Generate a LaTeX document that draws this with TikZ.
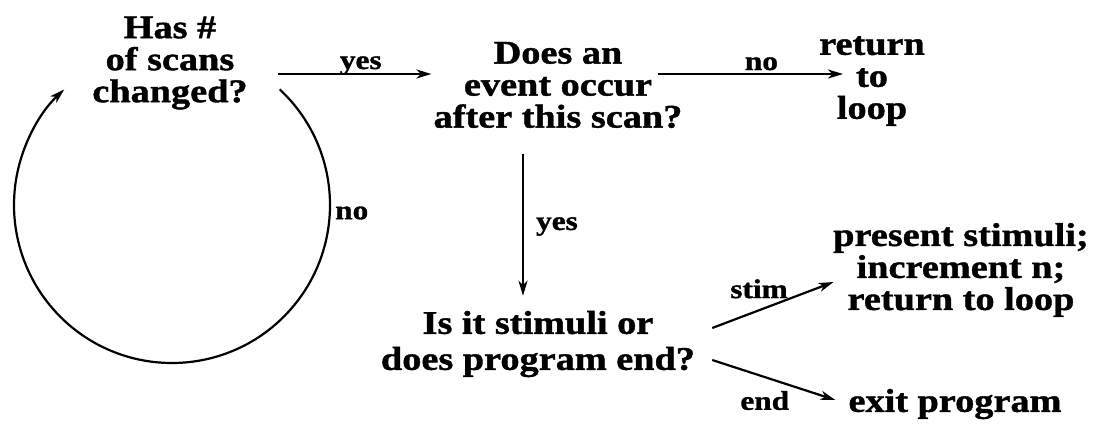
\documentclass[tikz,border=0pt]{standalone}
\usepackage{fontspec}
\setmainfont{Liberation Serif}[FakeStretch=1.16, BoldFeatures={FakeBold=1.2}]
\usetikzlibrary{arrows.meta,calc}
\begin{document}
\begin{tikzpicture}[x=1pt,y=-1pt,
  txt/.style={font=\fontsize{33}{32}\selectfont\bfseries, align=center, inner sep=0pt},
  lbl/.style={font=\fontsize{27}{29}\selectfont\bfseries, inner sep=0pt},
  arr/.style={line width=2.2pt, -{Stealth[length=15pt,width=9pt,inset=4.5pt]}}]
\useasboundingbox (0,0) rectangle (1096,424);
% nodes
\node[txt] (A) at (170,63) {Has \#\\of scans\\changed?};
\node[txt] (B) at (558,85) {Does an\\event occur\\after this scan?};
\node[txt] (C) at (872,81) {return\\to\\loop};
\node[txt, font=\fontsize{33}{36}\selectfont\bfseries] (F) at (538,344) {Is it stimuli or\\does program end?};
\node[txt] (D) at (961,270) {present stimuli;\\increment n;\\return to loop};
\node[txt] (E) at (955,404) {exit program};
\coordinate (loopc) at (172,205);
% connectors
\draw[arr] ($(A.east)+(30,11)$) -- node[lbl, pos=.54, anchor=base, yshift=5pt] (l1) {yes} ($(B.west)+(-2,-11)$);
\draw[arr] ($(B.east)+(-25,-11)$) -- node[lbl, pos=.56, anchor=base, yshift=4pt] (l2) {no} ($(C.west)+(24,-7)$);
\draw[arr] ($(B.south)+(-35,26)$) -- node[lbl, pos=.535, anchor=base west, xshift=12pt] (l3) {yes} ($(F.north)+(-15,-15)$);
\draw[arr] ($(F.east)+(17,-16)$) -- node[lbl, pos=.14, anchor=base west, yshift=23.5pt] (l4) {stim} ($(D.west)+(0.5,12)$);
\draw[arr] ($(F.east)+(17,16)$) -- node[lbl, pos=.22, anchor=base west, yshift=-41pt] (l5) {end} ($(E.west)+(-13,-4)$);
\draw[arr] ($(loopc)+(-47:158)$) arc[start angle=-47, end angle=227, radius=158];
\node[lbl, anchor=west] (l6) at ($(loopc)+(163,8)$) {no};
\end{tikzpicture}
\end{document}
